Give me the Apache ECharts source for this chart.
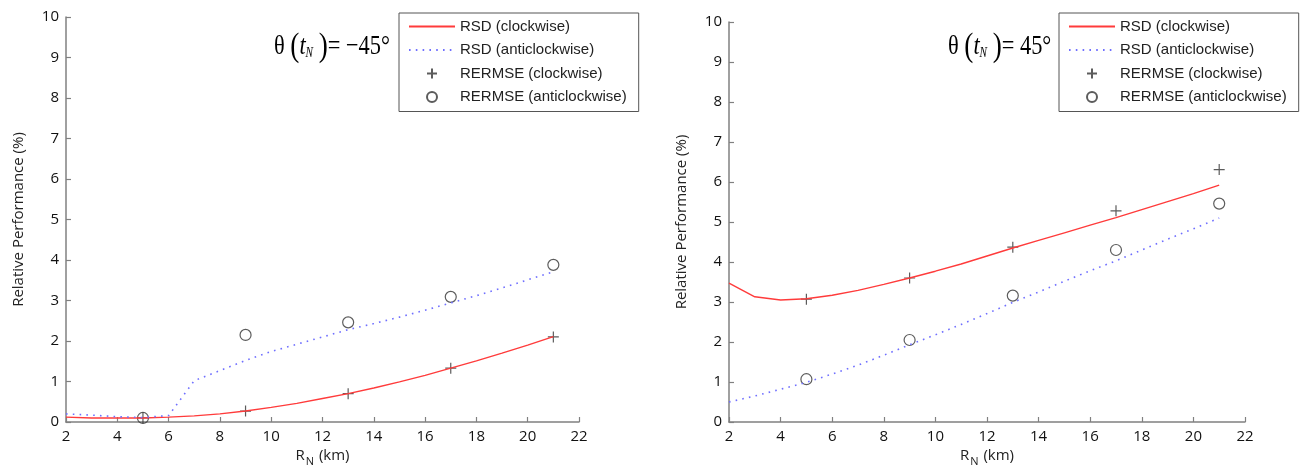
<!DOCTYPE html>
<html><head><meta charset="utf-8">
<script src="https://cdn.jsdelivr.net/npm/echarts@6/dist/echarts.min.js"></script>
<style>html,body{margin:0;padding:0;background:#fff}#c{width:1310px;height:470px}</style>
</head><body><div id="c"></div>
<script>
// ---- data ----
const xLine = [2,3,4,5,6,7,8,9,10,11,12,13,14,15,16,17,18,19,20,21];
const leftRsdCw  = [0.12,0.10,0.10,0.10,0.12,0.15,0.20,0.27,0.36,0.46,0.58,0.70,0.84,0.99,1.15,1.33,1.51,1.70,1.90,2.11];
const leftRsdAcw = [0.20,0.17,0.13,0.11,0.16,1.02,1.27,1.52,1.74,1.92,2.10,2.28,2.43,2.59,2.76,2.94,3.12,3.31,3.51,3.71];
const rightRsdCw  = [3.47,3.13,3.05,3.08,3.17,3.29,3.44,3.60,3.77,3.95,4.15,4.35,4.54,4.73,4.92,5.11,5.31,5.51,5.71,5.92];
const rightRsdAcw = [0.50,0.65,0.82,0.99,1.20,1.42,1.67,1.93,2.18,2.44,2.71,2.99,3.25,3.52,3.78,4.03,4.30,4.57,4.83,5.10];
const xMarks = [5,9,13,17,21];
const leftRmseCw  = [0.10,0.27,0.70,1.33,2.10];
const leftRmseAcw = [0.10,2.15,2.46,3.09,3.88];
const rightRmseCw  = [3.07,3.60,4.37,5.28,6.31];
const rightRmseAcw = [1.07,2.05,3.16,4.30,5.46];
const names = ['RSD (clockwise)','RSD (anticlockwise)','RERMSE (clockwise)','RERMSE (anticlockwise)'];
const titles = ['\u2212' + '45\u00b0', '45\u00b0'];

function pairs(xs, ys){ return xs.map((x,i)=>[x, ys[i]]); }

const chart = echarts.init(document.getElementById('c'), null, {renderer:'canvas'});
const grids = [
  {left:66, top:17, width:513, height:405, outerBoundsMode:'none', containLabel:false},
  {left:729, top:22, width:516, height:400, outerBoundsMode:'none', containLabel:false}
];
const axisColor = '#808080';
function xAx(i){
  return {type:'value', gridIndex:i, min:2, max:22, interval:2,
    axisLine:{lineStyle:{color:axisColor, width:1.5}},
    axisTick:{inside:true, length:5, lineStyle:{color:axisColor, width:1.2}},
    axisLabel:{margin:7, fontFamily:'Open Sans', fontSize:15, color:'#111'},
    splitLine:{show:false},
    name:'{r|R}{s|N}{r| (km)}', nameLocation:'middle', nameGap:26, nameMoveOverlap:false,
    nameTextStyle:{rich:{
      r:{fontFamily:'Open Sans', fontSize:15, color:'#222', lineHeight:16},
      s:{fontFamily:'Open Sans', fontSize:11, color:'#222', lineHeight:16, padding:[12,1,0,1]}
    }}
  };
}
function yAx(i){
  return {type:'value', gridIndex:i, min:0, max:10, interval:1,
    axisLine:{show:true, lineStyle:{color:axisColor, width:1.5}},
    axisTick:{show:true, inside:true, length:5, lineStyle:{color:axisColor, width:1.2}},
    axisLabel:{margin:7, fontFamily:'Open Sans', fontSize:15, color:'#111'},
    splitLine:{show:false},
    name:'Relative Performance (%)', nameLocation:'middle', nameGap:40, nameRotate:90, nameMoveOverlap:false,
    nameTextStyle:{fontFamily:'Open Sans', fontSize:15, color:'#222'}
  };
}
const plusPath = 'path://M5,0V10M0,5H10';
function seriesFor(i, rsdCw, rsdAcw, rmseCw, rmseAcw){
  return [
    {name:names[0], type:'line', xAxisIndex:i, yAxisIndex:i, data:pairs(xLine, rsdCw),
      symbol:'none', lineStyle:{color:'#ff3b3b', width:1.4}, itemStyle:{color:'#ff3b3b'}},
    {name:names[1], type:'line', xAxisIndex:i, yAxisIndex:i, data:pairs(xLine, rsdAcw),
      symbol:'none', lineStyle:{color:'#6f6fff', width:1.6, type:[1.6,5.2]}, itemStyle:{color:'#6f6fff'}},
    {name:names[2], type:'scatter', xAxisIndex:i, yAxisIndex:i, data:pairs(xMarks, rmseCw),
      symbol:plusPath, symbolSize:11, itemStyle:{color:'rgba(0,0,0,0)', borderColor:'#333', borderWidth:1.2}},
    {name:names[3], type:'scatter', xAxisIndex:i, yAxisIndex:i, data:pairs(xMarks, rmseAcw),
      symbol:'circle', symbolSize:11, itemStyle:{color:'rgba(0,0,0,0)', borderColor:'#333', borderWidth:1.2}}
  ];
}
function legend(left){
  return {orient:'vertical', left:left, top:13, padding:[6,12,7,9], itemWidth:46, itemHeight:10, itemGap:8.5,
    borderColor:'#555', borderWidth:1, backgroundColor:'#fff',
    textStyle:{fontFamily:'Liberation Sans', fontSize:15, color:'#222', lineHeight:14},
    data:[
      {name:names[0], itemStyle:{opacity:0}},
      {name:names[1], itemStyle:{opacity:0}},
      {name:names[2]},
      {name:names[3]}
    ]};
}
function titleText(x, label){
  return {type:'text', x:x, y:47, scaleX:0.8, z:10,
    style:{
      text:'{a|\u03b8 }{p|(}{t|t}{n|N}{a| }{p|)}{a|= ' + label + '}',
      verticalAlign:'middle', align:'left',
      rich:{
        a:{fontFamily:'Liberation Serif', fontSize:28, color:'#111'},
        p:{fontFamily:'Liberation Serif', fontSize:34, color:'#111'},
        t:{fontFamily:'Liberation Serif', fontSize:28, fontStyle:'italic', color:'#111'},
        n:{fontFamily:'Liberation Serif', fontSize:14, fontStyle:'italic', color:'#111', padding:[12,0,0,0]}
      }
    }};
}
chart.setOption({
  animation:false,
  backgroundColor:'#fff',
  grid:grids,
  xAxis:[xAx(0), xAx(1)],
  yAxis:[yAx(0), yAx(1)],
  legend:[legend(399), legend(1059)],
  series:[].concat(
    seriesFor(0, leftRsdCw, leftRsdAcw, leftRmseCw, leftRmseAcw),
    seriesFor(1, rightRsdCw, rightRsdAcw, rightRmseCw, rightRmseAcw)
  ),
  graphic:[titleText(274, titles[0]), titleText(948, titles[1])]
});
</script></body></html>
